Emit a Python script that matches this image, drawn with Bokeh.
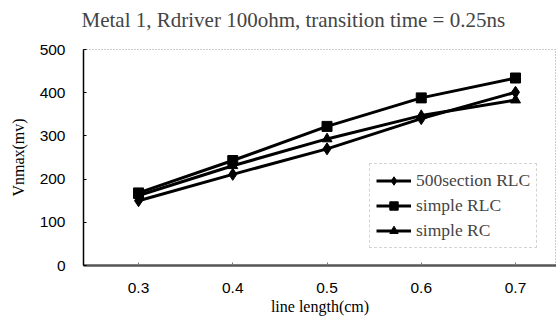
from bokeh.plotting import figure
from bokeh.models import Range1d, FixedTicker, Legend, LegendItem, Title
from bokeh.embed import file_html
from bokeh.resources import INLINE

title_text = "Metal 1, Rdriver 100ohm, transition time = 0.25ns"
line_length = [0.3, 0.4, 0.5, 0.6, 0.7]
rlc_500section = [150, 211, 270, 340, 401]
simple_rlc = [168, 243, 322, 388, 434]
simple_rc = [162, 231, 293, 347, 383]
y_ticks = [0, 100, 200, 300, 400, 500]

p = figure(width=556, height=322, output_backend="svg", toolbar_location=None,
           x_range=Range1d(0.2416, 0.7435), y_range=Range1d(0, 500),
           min_border_left=83, min_border_right=0, min_border_top=49,
           min_border_bottom=57)
p.title.text = title_text
p.title.text_font = "Liberation Serif"
p.title.text_font_size = "21px"
p.title.text_font_style = "normal"
p.title.align = "left"
p.title.offset = -2
p.title.vertical_align = "top"
p.title.standoff = 12

# small blank spacer between the title and the plot area
spacer = Title(text=" ", text_font_size="5px", standoff=2)
p.add_layout(spacer, "above")

p.xgrid.visible = False
p.ygrid.visible = False
p.outline_line_color = "#999999"
p.outline_line_dash = "1 2"
p.outline_line_width = 1
p.background_fill_color = "white"
p.border_fill_color = "white"

p.xaxis.ticker = FixedTicker(ticks=line_length)
p.yaxis.ticker = FixedTicker(ticks=y_ticks)
for ax in (p.xaxis[0], p.yaxis[0]):
    ax.major_label_text_font = "Liberation Sans"
    ax.major_label_text_font_size = "15.5px"
    ax.major_label_text_color = "black"
    ax.minor_tick_line_color = None
    ax.major_tick_out = 0
    ax.major_tick_in = 3
    ax.axis_label_text_font = "Liberation Serif"
    ax.axis_label_text_font_style = "normal"
    ax.axis_label_text_font_size = "16px"
    ax.axis_label_text_color = "black"

p.xaxis.axis_label = "line length(cm)"
p.xaxis.axis_line_width = 2.5
p.xaxis.axis_line_color = "#555555"
p.xaxis.major_tick_line_color = "#777777"
p.xaxis.major_label_standoff = 17
p.xaxis.axis_label_standoff = 2

p.yaxis.axis_label = "Vnmax(mv)"
p.yaxis.axis_line_width = 1.5
p.yaxis.axis_line_color = "black"
p.yaxis.major_label_standoff = 18
p.yaxis.axis_label_standoff = 10

items = []
l1 = p.line(line_length, rlc_500section, line_color="black", line_width=3)
m1 = p.scatter(line_length, rlc_500section, marker="diamond", size=12,
               fill_color="black", line_color="black")
items.append(LegendItem(label="500section RLC", renderers=[l1, m1]))
l2 = p.line(line_length, simple_rlc, line_color="black", line_width=3)
m2 = p.scatter(line_length, simple_rlc, marker="square", size=10,
               fill_color="black", line_color="black")
items.append(LegendItem(label="simple RLC", renderers=[l2, m2]))
l3 = p.line(line_length, simple_rc, line_color="black", line_width=3)
m3 = p.scatter(line_length, simple_rc, marker="triangle", size=10,
               fill_color="black", line_color="black")
items.append(LegendItem(label="simple RC", renderers=[l3, m3]))

legend = Legend(items=items, location=(286, 17))
legend.label_text_font = "Liberation Serif"
legend.label_text_font_size = "17.5px"
legend.label_standoff = 5
legend.glyph_width = 35
legend.glyph_height = 21
legend.spacing = 4
legend.padding = 6
legend.margin = 0
legend.border_line_color = "#aaaaaa"
legend.border_line_dash = "1 3"
legend.background_fill_alpha = 0
p.add_layout(legend, "center")

open("out.html", "w").write(file_html(p, INLINE))
